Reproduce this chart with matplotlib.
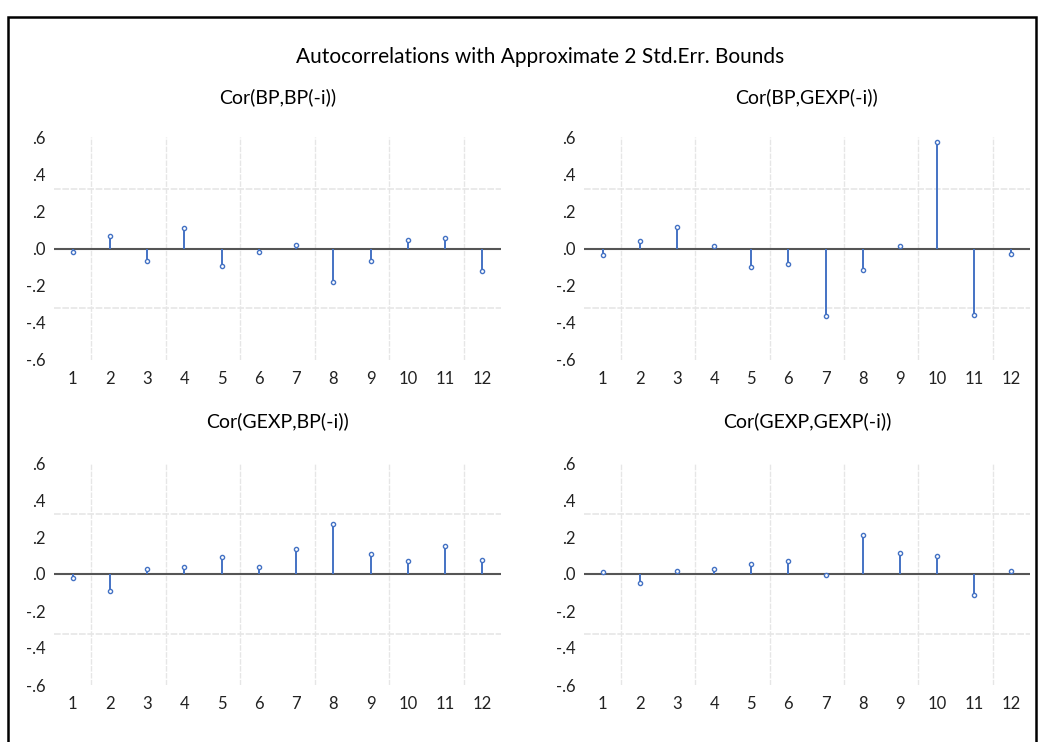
import numpy as np
import matplotlib.pyplot as plt
from matplotlib.patches import Rectangle

plt.rcParams['font.family'] = ['Lato', 'DejaVu Sans']

lags = [1, 2, 3, 4, 5, 6, 7, 8, 9, 10, 11, 12]
lag_labels = [str(i) for i in lags]

cor_bp_bp = [-0.021, 0.065, -0.067, 0.109, -0.093, -0.021, 0.021, -0.182, -0.067, 0.044, 0.056, -0.123]
cor_bp_gexp = [-0.037, 0.041, 0.116, 0.011, -0.102, -0.083, -0.365, -0.116, 0.016, 0.573, -0.356, -0.028]
cor_gexp_bp = [-0.022, -0.093, 0.027, 0.038, 0.093, 0.038, 0.134, 0.269, 0.109, 0.070, 0.151, 0.073]
cor_gexp_gexp = [0.013, -0.047, 0.016, 0.029, 0.054, 0.068, -0.004, 0.213, 0.115, 0.100, -0.116, 0.014]

bound = 0.322  # approx 2 std.err.

panel_titles = ["Cor(BP,BP(-i))", "Cor(BP,GEXP(-i))", "Cor(GEXP,BP(-i))", "Cor(GEXP,GEXP(-i))"]
panel_data = [cor_bp_bp, cor_bp_gexp, cor_gexp_bp, cor_gexp_gexp]

y_ticks = [-0.6, -0.4, -0.2, 0.0, 0.2, 0.4, 0.6]
y_labels = ["-.6", "-.4", "-.2", ".0", ".2", ".4", ".6"]

W, H = 1044, 742
fig = plt.figure(figsize=(W / 100, H / 100), dpi=100)

# frame around the whole graph (bottom runs off the page)
fig.patches.append(Rectangle((8 / W, -0.01), (1036 - 8) / W, 1.01 - 17 / H,
                             transform=fig.transFigure, fill=False,
                             edgecolor='black', linewidth=1.8))

fig.text(540 / W, 1 - 57 / H, "Autocorrelations with Approximate 2 Std.Err. Bounds",
         ha='center', va='center', fontsize=15)

# axes boxes in pixels: left, right, top(.6), bottom(-.6)
boxes = [(54, 501, 137, 360), (584, 1030, 137, 360),
         (54, 501, 463, 685), (584, 1030, 463, 685)]
title_y = [97, 97, 421, 421]

blue = '#4472C4'

for box, ttl, ty, vals in zip(boxes, panel_titles, title_y, panel_data):
    l, r, t, b = box
    ax = fig.add_axes([l / W, 1 - b / H, (r - l) / W, (b - t) / H])
    ax.set_xlim(0.5, 12.5)
    ax.set_ylim(-0.6, 0.6)
    for s in ax.spines.values():
        s.set_visible(False)

    for xv in [1.5, 3.5, 5.5, 7.5, 9.5, 11.5]:
        ax.axvline(xv, color='#e6e6e6', linewidth=1, linestyle=(0, (4, 1)), zorder=0)
    for yv in [bound, -bound]:
        ax.axhline(yv, color='#e6e6e6', linewidth=1.2, linestyle=(0, (4, 1)), zorder=0)
    ax.axhline(0, color='#555555', linewidth=1.5, zorder=2)

    ax.vlines(lags, 0, vals, color=blue, linewidth=1.4, zorder=3)
    ax.plot(lags, vals, linestyle='none', marker='o', markersize=3.0,
            markerfacecolor='white', markeredgecolor=blue, markeredgewidth=1.0, zorder=4)

    ax.set_xticks(lags)
    ax.set_xticklabels(lag_labels)
    ax.set_yticks(y_ticks)
    ax.set_yticklabels(y_labels)
    ax.tick_params(length=0, labelsize=12, colors='#222222')
    ax.tick_params(axis='x', pad=8)
    ax.tick_params(axis='y', pad=6)

    fig.text((l + r) / 2 / W, 1 - ty / H, ttl, ha='center', va='center', fontsize=14)

fig.savefig("out.png", dpi=100, facecolor='white')
